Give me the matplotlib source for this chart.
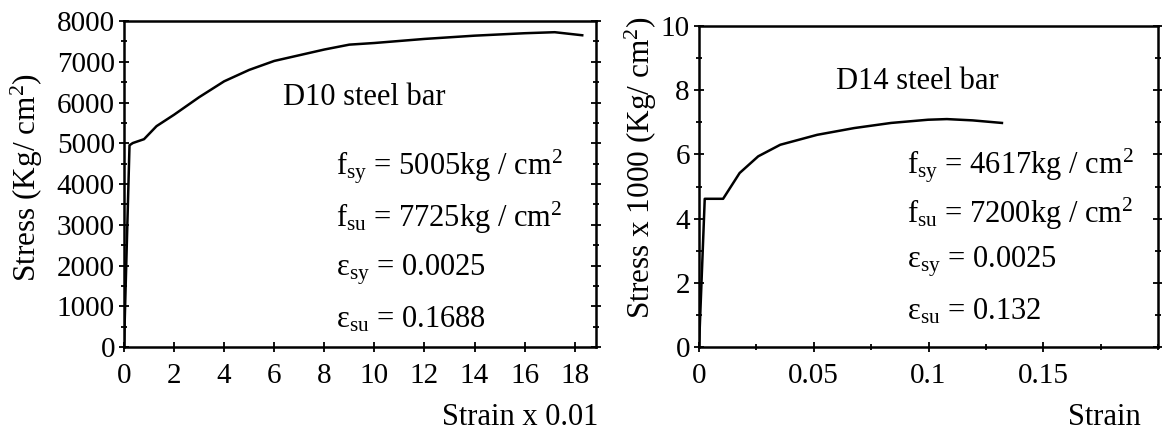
import matplotlib
matplotlib.use("Agg")
import matplotlib.pyplot as plt
from matplotlib.ticker import FixedLocator, FixedFormatter, MultipleLocator

plt.rcParams["font.family"] = ["Liberation Serif", "DejaVu Serif"]
plt.rcParams["mathtext.fontset"] = "custom"
plt.rcParams["mathtext.rm"] = "Liberation Serif"
plt.rcParams["mathtext.it"] = "Liberation Serif:italic"

# D10 steel bar (strain in units of 0.01, stress in kg/cm2)
d10_strain = [0, 0.22, 0.35, 0.8, 1.3, 2.0, 3.0, 4.0, 5.0, 6.0, 7.0, 8.0,
              9.0, 10.0, 12.0, 14.0, 16.0, 17.2, 18.3]
d10_stress = [0, 4950, 5005, 5100, 5420, 5700, 6130, 6520, 6800, 7020, 7160,
              7300, 7420, 7460, 7560, 7640, 7700, 7725, 7650]
d10_xticks = [0, 2, 4, 6, 8, 10, 12, 14, 16, 18]
d10_yticks = [0, 1000, 2000, 3000, 4000, 5000, 6000, 7000, 8000]
d10_notes = [
    r"$\mathrm{f}_{\mathrm{sy}}$ = 5005kg / cm$^2$",
    r"$\mathrm{f}_{\mathrm{su}}$ = 7725kg / cm$^2$",
    r"$\mathrm{ε}_{\mathrm{sy}}$ = 0.0025",
    r"$\mathrm{ε}_{\mathrm{su}}$ = 0.1688",
]

# D14 steel bar (strain, stress x 1000 kg/cm2)
d14_strain = [0, 0.0025, 0.0105, 0.0177, 0.0258, 0.0354, 0.0515, 0.0676,
              0.0837, 0.0998, 0.108, 0.1192, 0.132]
d14_stress = [0, 4.617, 4.617, 5.42, 5.94, 6.30, 6.61, 6.82, 6.98, 7.08,
              7.10, 7.06, 6.98]
d14_xticks = [0, 0.05, 0.1, 0.15]
d14_xlabels = ["0", "0.05", "0.1", "0.15"]
d14_yticks = [0, 2, 4, 6, 8, 10]
d14_notes = [
    r"$\mathrm{f}_{\mathrm{sy}}$ = 4617kg / cm$^2$",
    r"$\mathrm{f}_{\mathrm{su}}$ = 7200kg / cm$^2$",
    r"$\mathrm{ε}_{\mathrm{sy}}$ = 0.0025",
    r"$\mathrm{ε}_{\mathrm{su}}$ = 0.132",
]

W, H = 1162, 436
TICK_FS = 21
NOTE_FS = 22
LABEL_FS = 22.5


def px_axes(x0, x1, y0, y1):
    return [x0 / W, 1 - y1 / H, (x1 - x0) / W, (y1 - y0) / H]


def style(ax):
    for s in ax.spines.values():
        s.set_linewidth(1.8)
    ax.tick_params(which="both", direction="inout", right=True, top=False,
                   labelsize=TICK_FS, width=1.3)
    ax.tick_params(axis="x", pad=8)
    ax.tick_params(axis="y", pad=3)
    ax.tick_params(which="major", length=7)
    ax.tick_params(which="minor", length=5)


fig = plt.figure(figsize=(W / 100, H / 100), dpi=100)

ax1 = fig.add_axes(px_axes(124, 596, 21, 347))
ax1.plot(d10_strain, d10_stress, color="black", lw=1.8)
ax1.set_xlim(0, 18.85)
ax1.set_ylim(0, 8000)
ax1.xaxis.set_major_locator(FixedLocator(d10_xticks))
ax1.yaxis.set_major_locator(FixedLocator(d10_yticks))
ax1.yaxis.set_minor_locator(MultipleLocator(500))
style(ax1)
ax1.text(0.337, 0.766, "D10 steel bar", transform=ax1.transAxes,
         fontsize=NOTE_FS, va="center", ha="left")
for yy, note in zip([0.554, 0.397, 0.237, 0.083], d10_notes):
    ax1.text(0.449, yy, note, transform=ax1.transAxes, fontsize=NOTE_FS,
             va="center", ha="left")

ax2 = fig.add_axes(px_axes(699, 1158, 26, 347))
ax2.plot(d14_strain, d14_stress, color="black", lw=1.8)
ax2.set_xlim(0, 0.2)
ax2.set_ylim(0, 10)
ax2.xaxis.set_major_locator(FixedLocator(d14_xticks))
ax2.xaxis.set_major_formatter(FixedFormatter(d14_xlabels))
ax2.xaxis.set_minor_locator(MultipleLocator(0.025))
ax2.yaxis.set_major_locator(FixedLocator(d14_yticks))
ax2.yaxis.set_minor_locator(MultipleLocator(1))
style(ax2)
ax2.text(0.298, 0.826, "D14 steel bar", transform=ax2.transAxes,
         fontsize=NOTE_FS, va="center", ha="left")
for yy, note in zip([0.564, 0.414, 0.265, 0.109], d14_notes):
    ax2.text(0.453, yy, note, transform=ax2.transAxes, fontsize=NOTE_FS,
             va="center", ha="left")

fig.text(27 / W, 1 - 178 / H, "Stress (Kg/ cm$^2$)", rotation=90,
         fontsize=LABEL_FS, ha="center", va="center")
fig.text(641 / W, 1 - 168 / H, "Stress x 1000 (Kg/ cm$^2$)", rotation=90,
         fontsize=LABEL_FS, ha="center", va="center")
fig.text(442 / W, 1 - 417 / H, "Strain x 0.01", fontsize=NOTE_FS,
         ha="left", va="center")
fig.text(1068 / W, 1 - 417 / H, "Strain", fontsize=NOTE_FS,
         ha="left", va="center")

fig.savefig("out.png", dpi=100)
